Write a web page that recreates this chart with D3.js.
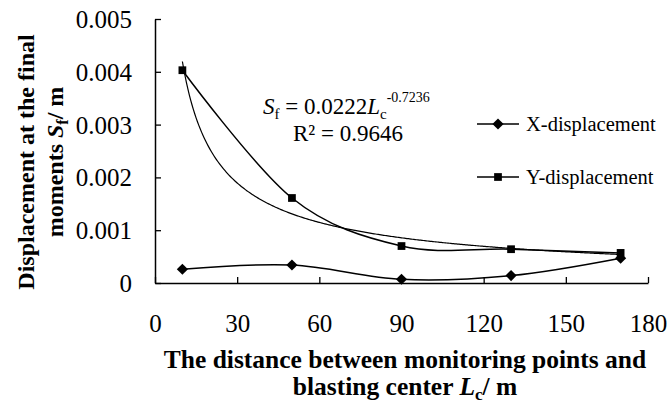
<!DOCTYPE html>
<html>
<head>
<meta charset="utf-8">
<script src="https://cdn.jsdelivr.net/npm/d3@7"></script>
</head>
<body style="margin:0;background:#fff">
<svg id="chart" width="670" height="403" style="display:block"></svg>
<script>
// Monitoring point distances from the blasting center (m)
const distances = [10, 50, 90, 130, 170];
// Final displacement at each monitoring point (m)
const xDisplacement = [0.00026, 0.00034, 0.00007, 0.00014, 0.00047];
const yDisplacement = [0.00403, 0.00161, 0.00070, 0.00064, 0.00057];
// Power-law fit of the Y displacement: Sf = a * Lc^b
const fitCoef = 0.0222;
const fitExp = -0.7236;
const fitR2 = "0.9646";
// Axis ticks
const xTicks = [0, 30, 60, 90, 120, 150, 180];
const yTicks = [0, 0.001, 0.002, 0.003, 0.004, 0.005];

const FONT = "'Liberation Serif', 'Times New Roman', serif";
const svg = d3.select("#chart").attr("font-family", FONT);
const plot = { left: 155, right: 648, top: 19, bottom: 283 };

const x = d3.scaleLinear().domain([0, 180]).range([plot.left, plot.right]);
const y = d3.scaleLinear().domain([0, 0.005]).range([plot.bottom, plot.top]);

// Axes (ticks point into the plot area)
const xAxis = d3.axisBottom(x).tickValues(xTicks).tickSize(-6).tickSizeOuter(0)
  .tickPadding(31).tickFormat(d3.format("d"));
const yAxis = d3.axisLeft(y).tickValues(yTicks).tickSize(-6).tickSizeOuter(0)
  .tickPadding(23).tickFormat(d => d === 0 ? "0" : d3.format(".3f")(d));

const gx = svg.append("g").attr("transform", `translate(0,${plot.bottom})`).call(xAxis);
const gy = svg.append("g").attr("transform", `translate(${plot.left},0)`).call(yAxis);
[gx, gy].forEach(g => {
  g.attr("font-family", FONT).attr("font-size", 25);
  g.select(".domain").attr("stroke", "#000").attr("stroke-width", 1.5);
  g.selectAll(".tick line").attr("stroke", "#000").attr("stroke-width", 1.3);
  g.selectAll(".tick text")
    .attr("font-family", FONT).attr("font-size", 25)
    .style("font-family", FONT).style("font-size", "25px").attr("fill", "#000");
});
gy.selectAll(".tick text").attr("dy", "0.34em");

// Power-law trend line
const fitPts = d3.range(10, 170.01, 0.5).map(d => [d, fitCoef * Math.pow(d, fitExp)]);
svg.append("path")
  .datum(fitPts)
  .attr("fill", "none").attr("stroke", "#000").attr("stroke-width", 1.2)
  .attr("d", d3.line().x(d => x(d[0])).y(d => y(d[1])));

// Smoothed data lines
const smooth = d3.line().curve(d3.curveCardinal.tension(0))
  .x(d => x(d[0])).y(d => y(d[1]));

const seriesX = distances.map((d, i) => [d, xDisplacement[i]]);
const seriesY = distances.map((d, i) => [d, yDisplacement[i]]);

[seriesX, seriesY].forEach(s => {
  svg.append("path").datum(s)
    .attr("fill", "none").attr("stroke", "#000").attr("stroke-width", 1.5)
    .attr("d", smooth);
});

const diamond = d3.symbol().type(d3.symbolSquare).size(62);
const square = d3.symbol().type(d3.symbolSquare).size(60);

svg.append("g").selectAll("path").data(seriesX).join("path")
  .attr("transform", d => `translate(${x(d[0])},${y(d[1])}) rotate(45)`)
  .attr("d", diamond).attr("fill", "#000");
svg.append("g").selectAll("path").data(seriesY).join("path")
  .attr("transform", d => `translate(${x(d[0])},${y(d[1])})`)
  .attr("d", square).attr("fill", "#000");

// Equation of the fit
const eq = svg.append("text").attr("x", 263).attr("y", 114)
  .style("font-family", FONT).style("font-size", "23px");
eq.append("tspan").attr("font-style", "italic").text("S");
eq.append("tspan").style("font-size", "15px").attr("dy", 5).text("f");
eq.append("tspan").attr("dy", -5).text(" = 0.0222");
eq.append("tspan").attr("font-style", "italic").text("L");
eq.append("tspan").style("font-size", "15px").attr("dy", 5).text("c");
eq.append("tspan").style("font-size", "14px").attr("dy", -17).text("-0.7236");
svg.append("text").attr("x", 348).attr("y", 141)
  .style("font-family", FONT).style("font-size", "23px")
  .attr("text-anchor", "middle").text("R² = " + fitR2);

// Legend
const legend = [
  { label: "X-displacement", y: 124, shape: "diamond" },
  { label: "Y-displacement", y: 177, shape: "square" }
];
legend.forEach(l => {
  const g = svg.append("g");
  g.append("line").attr("x1", 477).attr("x2", 519).attr("y1", l.y).attr("y2", l.y)
    .attr("stroke", "#000").attr("stroke-width", 1.5);
  g.append("path")
    .attr("transform", `translate(498,${l.y})` + (l.shape === "diamond" ? " rotate(45)" : ""))
    .attr("d", l.shape === "diamond" ? diamond() : square())
    .attr("fill", "#000");
  g.append("text").attr("x", 526).attr("y", l.y + 7)
    .style("font-family", FONT).style("font-size", "20.5px").text(l.label);
});

// Axis titles
svg.append("text").attr("x", 405).attr("y", 368).attr("text-anchor", "middle")
  .style("font-family", FONT).style("font-size", "25.5px").attr("font-weight", "bold")
  .text("The distance between monitoring points and");
const xt2 = svg.append("text").attr("x", 405).attr("y", 395).attr("text-anchor", "middle")
  .style("font-family", FONT).style("font-size", "25.5px").attr("font-weight", "bold");
xt2.append("tspan").text("blasting center ");
xt2.append("tspan").attr("font-style", "italic").text("L");
xt2.append("tspan").style("font-size", "17px").attr("dy", 5).text("c");
xt2.append("tspan").attr("dy", -5).text("/ m");

const yt = svg.append("g").attr("transform", "translate(0,162) rotate(-90)");
yt.append("text").attr("x", 0).attr("y", 34).attr("text-anchor", "middle")
  .style("font-family", FONT).style("font-size", "24px").attr("font-weight", "bold")
  .text("Displacement at the final");
const yt2 = yt.append("text").attr("x", 0).attr("y", 63).attr("text-anchor", "middle")
  .style("font-family", FONT).style("font-size", "24px").attr("font-weight", "bold");
yt2.append("tspan").text("moments ");
yt2.append("tspan").attr("font-style", "italic").text("S");
yt2.append("tspan").style("font-size", "16px").attr("dy", 5).text("f");
yt2.append("tspan").attr("dy", -5).text("/ m");
</script>
</body>
</html>
